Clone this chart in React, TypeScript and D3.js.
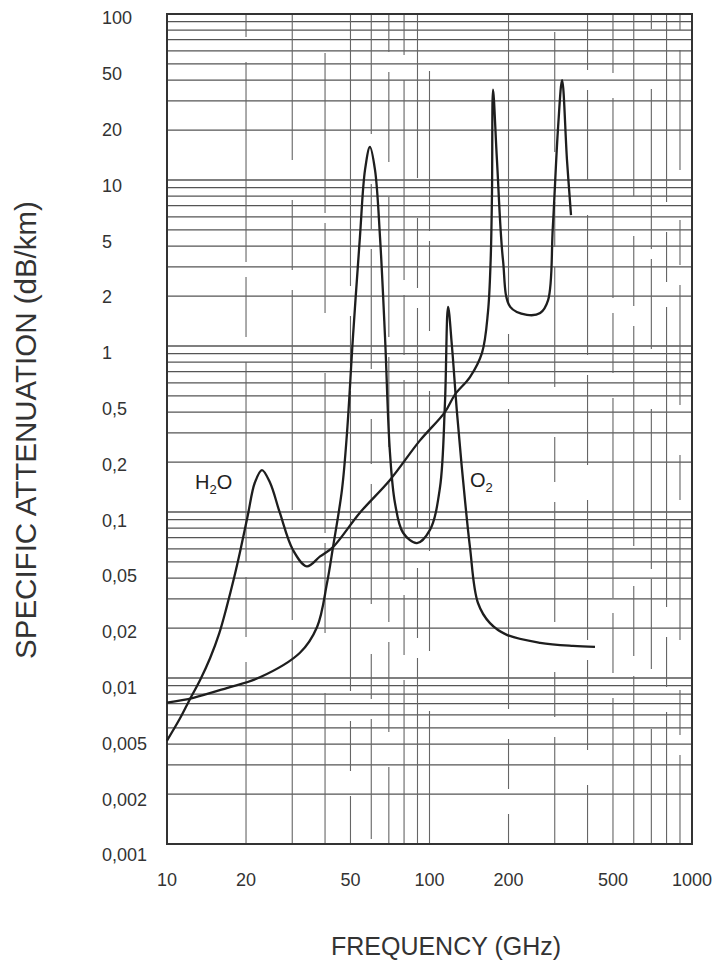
import React from "react";
import * as d3 from "d3";

// Frequency axis tick labels (GHz)
const FREQ_TICKS = [10, 20, 50, 100, 200, 500, 1000];
// Attenuation axis labels (as printed, evenly spaced in the original)
const ATT_LABELS = ["100", "50", "20", "10", "5", "2", "1", "0,5", "0,2", "0,1", "0,05", "0,02", "0,01", "0,005", "0,002", "0,001"];

// Water vapour curve [GHz, dB/km]
const H2O_FREQ = [10, 11.2, 12.2, 13.4, 14.6, 15.8, 16.9, 18.0, 19.0, 20.3, 21.6, 23.0, 24.7, 26.9, 30.2, 34.1, 38.3, 42.9, 54.3, 70.7, 92, 114.5, 125, 142.6, 158.5, 167, 171, 173, 174.6, 180.7, 190.5, 203, 235, 264, 283, 295, 309, 320, 334, 346];
const H2O_ATT = [0.0042, 0.0057, 0.0074, 0.0098, 0.0132, 0.0185, 0.027, 0.04, 0.058, 0.095, 0.15, 0.179, 0.15, 0.099, 0.059, 0.047, 0.054, 0.0615, 0.099, 0.156, 0.27, 0.4, 0.51, 0.65, 0.91, 1.6, 3.3, 8.3, 35, 13.2, 3.3, 1.72, 1.54, 1.58, 1.89, 5.2, 20.9, 40, 13.2, 6.15];

// Oxygen curve [GHz, dB/km]
const O2_FREQ = [10, 12.6, 16.9, 22.6, 32.1, 37.3, 40.7, 42.9, 46.4, 48.5, 51.1, 54.3, 56.8, 59.3, 62.0, 64.8, 67.7, 70.7, 73.9, 79.3, 89.6, 100.4, 109.6, 114.5, 117.7, 121.8, 127.3, 134.2, 142.6, 153, 170, 197, 264, 352, 427];
const O2_ATT = [0.0071, 0.0076, 0.0087, 0.0101, 0.0142, 0.0203, 0.0373, 0.0615, 0.136, 0.3, 1.13, 4.5, 11.5, 15.8, 11.5, 4.5, 1.13, 0.227, 0.113, 0.075, 0.065, 0.078, 0.14, 0.45, 1.72, 0.99, 0.395, 0.156, 0.0615, 0.0283, 0.0214, 0.0182, 0.0163, 0.0156, 0.0154];

const W = 718;
const H = 967;
const LEFT = 167;
const RIGHT = 692;
const TOP = 14;
const BOTTOM = 844;
const FONT = "'Liberation Sans', Arial, Helvetica, sans-serif";

function minorTicks(lo: number, hi: number): number[] {
  const out: number[] = [];
  for (let e = Math.round(Math.log10(lo)); e < Math.round(Math.log10(hi)); e++) {
    for (let m = 1; m <= 9; m++) out.push(+(m * Math.pow(10, e)).toPrecision(6));
  }
  out.push(hi);
  return out;
}

const DASHES = ["140 20 90 35", "60 25 200 15", "220 40 70 20", "90 60 160 10", "300 30 50 25", "45 20 120 50"];

export default function App() {
  const x = d3.scaleLog().domain([10, 1000]).range([LEFT, RIGHT]);
  const y = d3.scaleLog().domain([0.001, 100]).range([BOTTOM, TOP]);
  const yLab = d3.scalePoint<string>().domain(ATT_LABELS).range([18, 855]);

  const line = d3
    .line<[number, number]>()
    .x((d) => x(d[0]))
    .y((d) => y(d[1]))
    .curve(d3.curveCatmullRom.alpha(0.5));

  const h2o: [number, number][] = H2O_FREQ.map((f, i) => [f, H2O_ATT[i]]);
  const o2: [number, number][] = O2_FREQ.map((f, i) => [f, O2_ATT[i]]);

  const hLines = minorTicks(0.001, 100);
  const vLines = minorTicks(10, 1000);

  return (
    <svg width={W} height={H} style={{ position: "absolute", left: 0, top: 0, background: "#fff" }}>
      {/* horizontal grid */}
      {hLines.map((v, i) => (
        <line key={"h" + i} x1={LEFT} x2={RIGHT} y1={y(v)} y2={y(v)} stroke="#555" strokeWidth={1.3} />
      ))}
      {/* vertical grid */}
      {vLines.map((v, i) => (
        <line
          key={"v" + i}
          x1={x(v)}
          x2={x(v)}
          y1={TOP}
          y2={BOTTOM}
          stroke="#666"
          strokeWidth={1.1}
          strokeDasharray={DASHES[i % DASHES.length]}
          strokeDashoffset={(i * 37) % 120}
        />
      ))}
      {/* frame */}
      <rect x={LEFT} y={TOP} width={RIGHT - LEFT} height={BOTTOM - TOP} fill="none" stroke="#333" strokeWidth={2} />

      {/* curves */}
      <path d={line(h2o) || ""} fill="none" stroke="#1e1e1e" strokeWidth={2.3} strokeLinejoin="round" />
      <path d={line(o2) || ""} fill="none" stroke="#1e1e1e" strokeWidth={2.3} strokeLinejoin="round" />

      {/* curve labels */}
      <text x={195} y={489} fontFamily={FONT} fontSize={20} fill="#222">
        H<tspan fontSize={13} dy={5}>2</tspan>
        <tspan dy={-5}>O</tspan>
      </text>
      <text x={470} y={487} fontFamily={FONT} fontSize={20} fill="#222">
        O<tspan fontSize={13} dy={5}>2</tspan>
      </text>

      {/* y tick labels */}
      {ATT_LABELS.map((l) => (
        <text key={l} x={102} y={yLab(l)} dy="0.35em" fontFamily={FONT} fontSize={18} fill="#333">
          {l}
        </text>
      ))}
      {/* x tick labels */}
      {FREQ_TICKS.map((f) => (
        <text key={f} x={x(f)} y={880} dy="0.35em" textAnchor="middle" fontFamily={FONT} fontSize={18} fill="#333">
          {f}
        </text>
      ))}

      {/* axis titles */}
      <text
        transform={`translate(36,${430}) rotate(-90)`}
        textAnchor="middle"
        fontFamily={FONT}
        fontSize={29.5}
        fill="#333"
      >
        SPECIFIC ATTENUATION (dB/km)
      </text>
      <text x={446} y={955} textAnchor="middle" fontFamily={FONT} fontSize={25} fill="#333">
        FREQUENCY (GHz)
      </text>
    </svg>
  );
}
